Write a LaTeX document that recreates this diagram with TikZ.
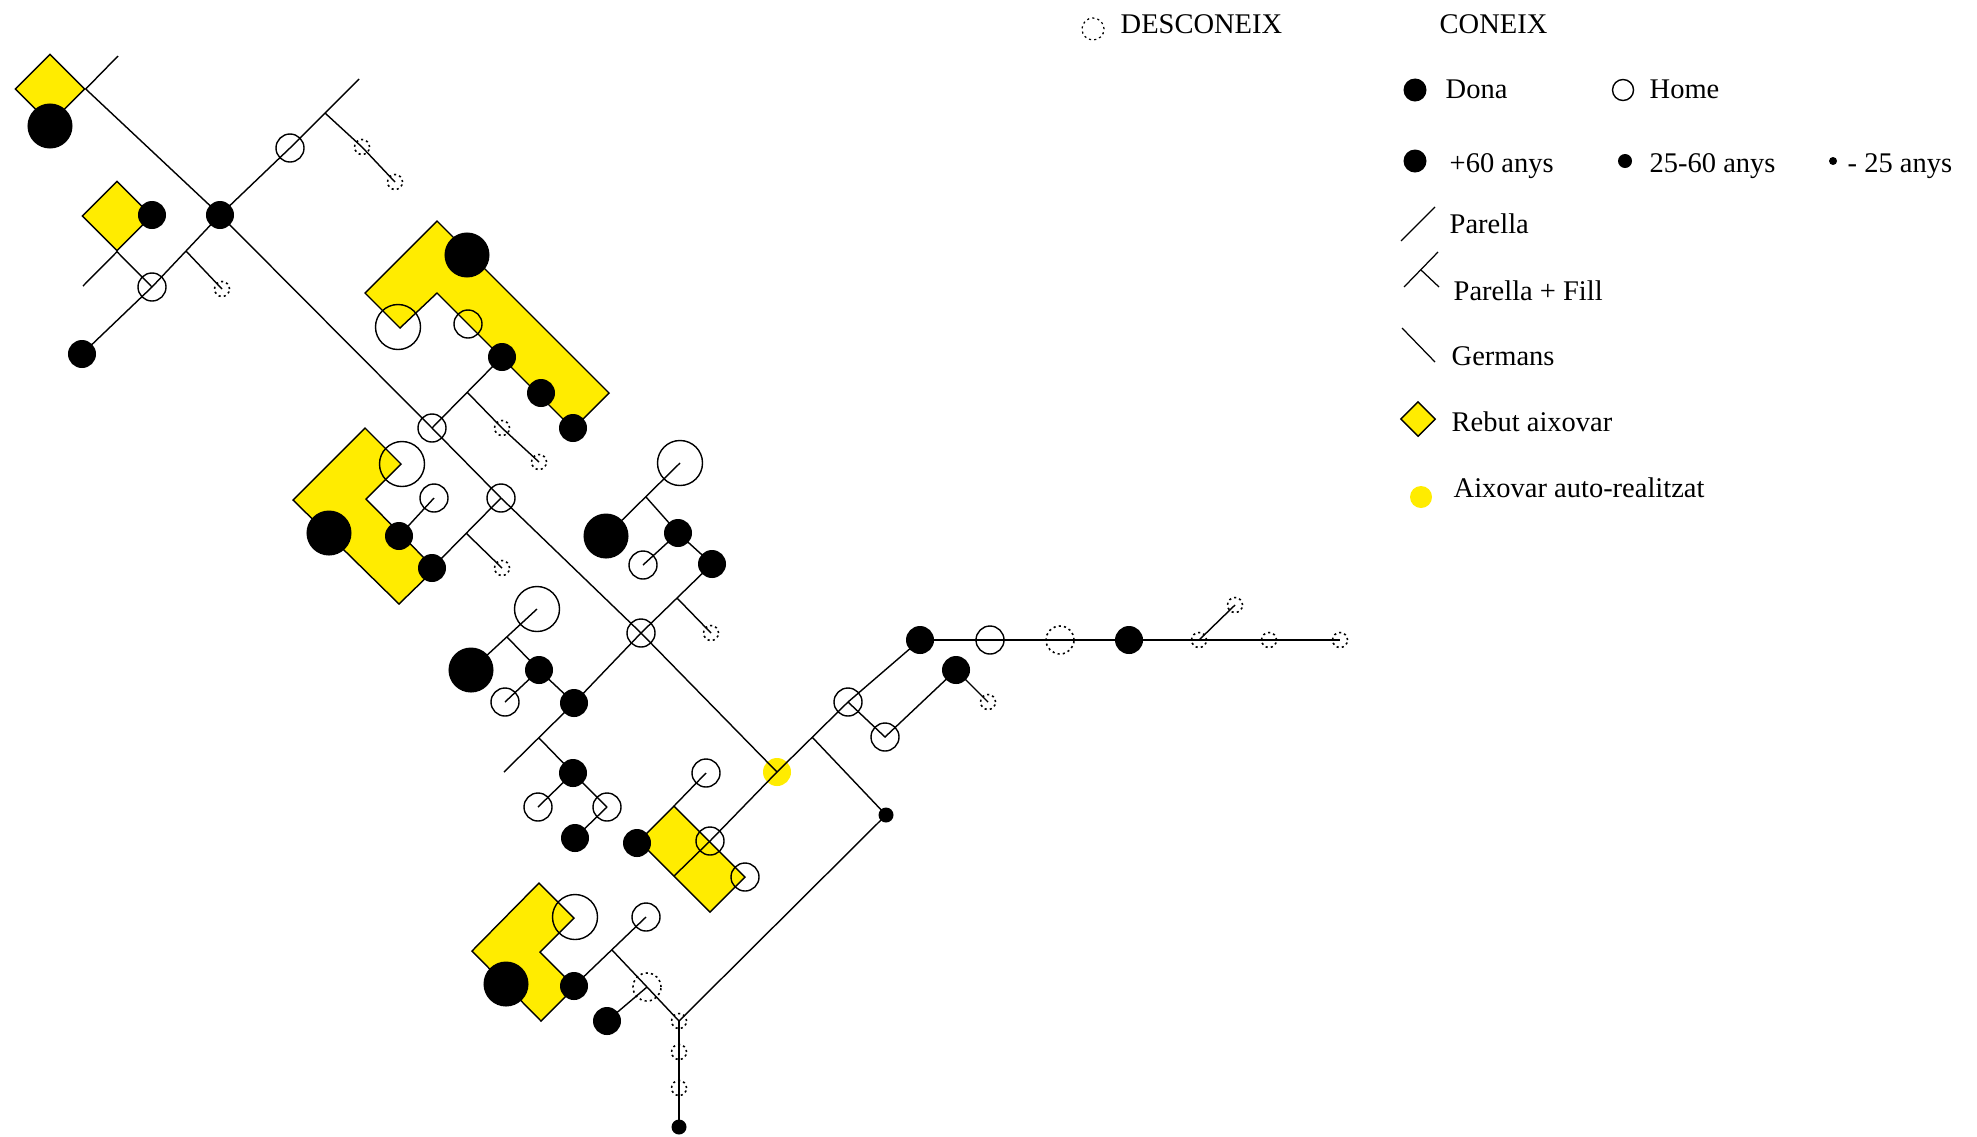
\documentclass[tikz,border=0pt]{standalone}
\usepackage{fontspec}
\setmainfont{Liberation Serif}
\usetikzlibrary{shapes.geometric}
\definecolor{groc}{RGB}{255,236,0}
\pgfdeclarelayer{fons}
\pgfdeclarelayer{linies}
\pgfsetlayers{fons,linies,main}

\begin{document}
\begin{tikzpicture}[x=0.01cm,y=-0.01cm,line width=0.6pt,
  dona/.style={circle,fill=black,inner sep=0pt},
  home/.style={circle,draw,inner sep=0pt},
  desc/.style={circle,draw,line width=0.45pt,dash pattern=on 0.6pt off 0.9pt,inner sep=0pt},
  gran/.style={minimum size=0.45cm},
  mitja/.style={minimum size=0.28cm},
  petit/.style={minimum size=0.15cm},
  aixovar/.style={circle,fill=groc,inner sep=0pt,minimum size=0.28cm},
  rebut/.style={diamond,draw,fill=groc,inner sep=0pt,minimum width=0.7cm,minimum height=0.7cm},
  zona/.style={draw,fill=groc},
  llegenda/.style={anchor=base west,inner sep=0pt,font=\fontsize{8.1}{10}\selectfont}]
\useasboundingbox (0,0) rectangle (1977,1136);

\coordinate (a1) at (118,56);
\coordinate (a2) at (359,79);
\coordinate (a3) at (83,286);
\coordinate (a4) at (504,772);
\coordinate (j1) at (325,113);
\coordinate (j2) at (186,251);
\coordinate (j3) at (467,392);
\coordinate (j4) at (466,533);
\coordinate (j5) at (646,497);
\coordinate (j6) at (677,598);
\coordinate (j7) at (507,637);
\coordinate (j8) at (539,738);
\coordinate (j9) at (812,737);
\coordinate (j10) at (612,950);
\coordinate (r1) at (674,806);
\coordinate (r2) at (674,876);

\begin{pgfonlayer}{fons}
\path[zona] (437,221) -- (609,393) -- (573,429) -- (437,293) -- (400,328) -- (365,293) -- cycle;
\path[zona] (293,500) -- (365,428) -- (401,464) -- (366,499) -- (435,569) -- (399,604) -- cycle;
\path[zona] (472,951) -- (539,883) -- (574,918) -- (540,952) -- (575,987) -- (541,1021) -- cycle;
\path[zona] (r1) -- (745,877) -- (710,912) -- (639,841) -- cycle;
\node[rebut] (d1) at (50,89) {};
\node[rebut] (d2) at (117,216) {};
\node[aixovar] (42) at (777,772) {};
\end{pgfonlayer}

\node[dona,gran] (1) at (50,126) {};
\node[dona,mitja] (2) at (220,215) {};
\node[home,mitja] (3) at (290,148) {};
\node[desc,petit] (4) at (362,147) {};
\node[desc,petit] (5) at (395,182) {};
\node[dona,mitja] (6) at (152,215) {};
\node[home,mitja] (7) at (152,287) {};
\node[dona,mitja] (8) at (82,354) {};
\node[desc,petit] (9) at (222,289) {};
\node[dona,gran] (10) at (467,255) {};
\node[home,gran] (11) at (398,327) {};
\node[home,mitja] (12) at (468,324) {};
\node[dona,mitja] (13) at (502,357) {};
\node[dona,mitja] (14) at (541,393) {};
\node[dona,mitja] (15) at (573,428) {};
\node[home,mitja] (16) at (432,428) {};
\node[desc,petit] (17) at (502,428) {};
\node[desc,petit] (18) at (539,462) {};
\node[home,gran] (19) at (402,464) {};
\node[home,mitja] (20) at (434,498) {};
\node[dona,gran] (21) at (329,533) {};
\node[dona,mitja] (22) at (399,536) {};
\node[dona,mitja] (23) at (432,568) {};
\node[home,mitja] (24) at (501,498) {};
\node[desc,petit] (25) at (502,568) {};
\node[home,gran] (26) at (680,463) {};
\node[dona,gran] (27) at (606,536) {};
\node[dona,mitja] (28) at (678,533) {};
\node[dona,mitja] (29) at (712,564) {};
\node[home,mitja] (30) at (643,565) {};
\node[home,mitja] (31) at (641,633) {};
\node[desc,petit] (32) at (711,633) {};
\node[dona,mitja] (33) at (574,703) {};
\node[home,gran] (34) at (537,609) {};
\node[dona,gran] (35) at (471,670) {};
\node[dona,mitja] (36) at (539,670) {};
\node[home,mitja] (37) at (505,702) {};
\node[dona,mitja] (38) at (573,773) {};
\node[home,mitja] (39) at (607,807) {};
\node[home,mitja] (40) at (538,807) {};
\node[dona,mitja] (41) at (575,838) {};
\node[home,mitja] (43) at (706,773) {};
\node[dona,mitja] (44) at (637,843) {};
\node[home,mitja] (45) at (745,877) {};
\node[home,mitja] (46) at (710,841) {};
\node[home,mitja] (47) at (848,702) {};
\node[dona,mitja] (48) at (920,640) {};
\node[home,mitja] (49) at (885,737) {};
\node[dona,mitja] (50) at (956,670) {};
\node[desc,petit] (51) at (988,702) {};
\node[dona,petit] (52) at (886,815) {};
\node[home,mitja] (53) at (990,640) {};
\node[desc,mitja] (54) at (1060,640) {};
\node[dona,mitja] (55) at (1129,640) {};
\node[desc,petit] (56) at (1199,640) {};
\node[desc,petit] (57) at (1235,605) {};
\node[desc,petit] (58) at (1269,640) {};
\node[desc,petit] (59) at (1340,640) {};
\node[home,gran] (60) at (575,917) {};
\node[dona,gran] (61) at (506,984) {};
\node[dona,mitja] (62) at (574,986) {};
\node[home,mitja] (63) at (646,917) {};
\node[desc,mitja] (64) at (647,987) {};
\node[dona,mitja] (65) at (607,1021) {};
\node[desc,petit] (66) at (679,1021) {};
\node[desc,petit] (67) at (679,1052) {};
\node[desc,petit] (68) at (679,1088) {};
\node[dona,petit] (69) at (679,1127) {};

\begin{pgfonlayer}{linies}
\path[draw] (a1) -- (d1.east);
\path[draw] (d1.east) -- (2.center) -- (16.center) -- (24.center) -- (31.center) -- (42.center);
\path[draw] (a2) -- (3.center) -- (2.center) -- (7.center) -- (8.center);
\path[draw] (j1) -- (4.center) -- (5.center);
\path[draw] (j2) -- (9.center);
\path[draw] (a3) -- (d2.south) -- (7.center);
\path[draw] (13.center) -- (16.center);
\path[draw] (j3) -- (17.center) -- (18.center);
\path[draw] (22.center) -- (20.center);
\path[draw] (23.center) -- (24.center);
\path[draw] (j4) -- (25.center);
\path[draw] (27.center) -- (26.center);
\path[draw] (j5) -- (28.center) -- (29.center);
\path[draw] (28.center) -- (30.center);
\path[draw] (29.center) -- (31.center) -- (33.center) -- (a4);
\path[draw] (j6) -- (32.center);
\path[draw] (35.center) -- (34.center);
\path[draw] (j7) -- (36.center) -- (33.center);
\path[draw] (36.center) -- (37.center);
\path[draw] (j8) -- (38.center) -- (39.center);
\path[draw] (38.center) -- (40.center);
\path[draw] (39.center) -- (41.center);
\path[draw] (43.center) -- (r1);
\path[draw] (r2) -- (46.center) -- (42.center) -- (47.center) -- (48.center);
\path[draw] (j9) -- (52.center) -- (66.center);
\path[draw] (48.center) -- (53.center) -- (54.center) -- (55.center) -- (56.center) -- (58.center) -- (59.center);
\path[draw] (56.center) -- (57.center);
\path[draw] (47.center) -- (49.center) -- (50.center) -- (51.center);
\path[draw] (62.center) -- (63.center);
\path[draw] (j10) -- (64.center) -- (66.center);
\path[draw] (64.center) -- (65.center);
\path[draw] (66.center) -- (69.center);
\end{pgfonlayer}

\node[desc,minimum size=0.22cm,line width=0.35pt] (l1) at (1093,29) {};
\node[llegenda] (t1) at (1120,33) {DESCONEIX};
\node[llegenda] (t2) at (1439,33) {CONEIX};
\node[dona,minimum size=0.23cm] (l2) at (1415,90) {};
\node[llegenda] (t3) at (1445,98) {Dona};
\node[home,minimum size=0.21cm,line width=0.4pt] (l3) at (1623,90) {};
\node[llegenda] (t4) at (1649,98) {Home};
\node[dona,minimum size=0.23cm] (l4) at (1415,161) {};
\node[llegenda] (t5) at (1449,172) {+60 anys};
\node[dona,minimum size=0.14cm] (l5) at (1625,161) {};
\node[llegenda] (t6) at (1649,172) {25-60 anys};
\node[dona,minimum size=0.08cm] (l6) at (1833,161) {};
\node[llegenda] (t7) at (1847,172) {- 25 anys};
\coordinate (p1) at (1401,241);
\coordinate (p2) at (1435,207);
\path[draw,line width=0.35pt] (p1) -- (p2);
\node[llegenda] (t8) at (1449,233) {Parella};
\coordinate (p3) at (1404,287);
\coordinate (p4) at (1438,252);
\coordinate (p5) at (1421,270);
\coordinate (p6) at (1439,287);
\path[draw,line width=0.35pt] (p3) -- (p4);
\path[draw,line width=0.35pt] (p5) -- (p6);
\node[llegenda] (t9) at (1453,300) {Parella + Fill};
\coordinate (p7) at (1402,328);
\coordinate (p8) at (1435,362);
\path[draw,line width=0.35pt] (p7) -- (p8);
\node[llegenda] (t10) at (1451,365) {Germans};
\node[rebut,minimum width=0.35cm,minimum height=0.35cm,line width=0.4pt] (l7) at (1418,419) {};
\node[llegenda] (t11) at (1451,431) {Rebut aixovar};
\node[aixovar,minimum size=0.22cm] (l8) at (1421,497) {};
\node[llegenda] (t12) at (1453,497) {Aixovar auto-realitzat};
\end{tikzpicture}
\end{document}
